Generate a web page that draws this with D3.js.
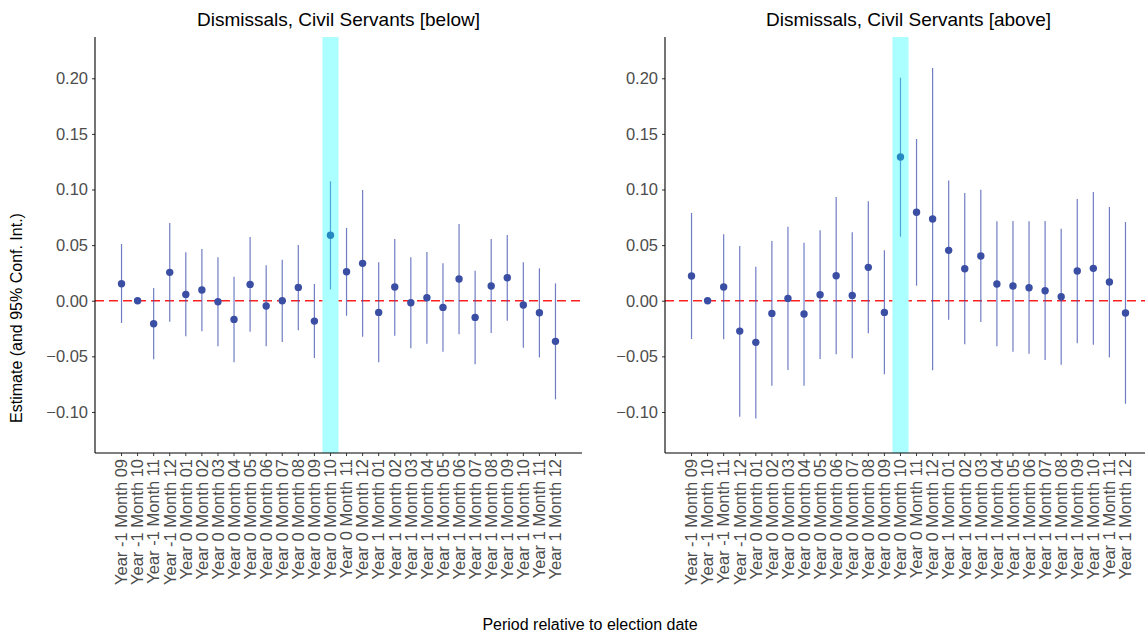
<!DOCTYPE html>
<html>
<head>
<meta charset="utf-8">
<script src="https://cdn.jsdelivr.net/npm/d3@7"></script>
<style>
  body { margin: 0; background: #fff; }
  text { font-family: "Liberation Sans", Arial, sans-serif; }
</style>
</head>
<body>
<div id="chart"></div>
<script>
var width = 1145;
var height = 636;

var periods = ["Year -1 Month 09","Year -1 Month 10","Year -1 Month 11","Year -1 Month 12"
              ,"Year 0 Month 01","Year 0 Month 02","Year 0 Month 03","Year 0 Month 04"
              ,"Year 0 Month 05","Year 0 Month 06","Year 0 Month 07","Year 0 Month 08"
              ,"Year 0 Month 09","Year 0 Month 10","Year 0 Month 11","Year 0 Month 12"
              ,"Year 1 Month 01","Year 1 Month 02","Year 1 Month 03","Year 1 Month 04"
              ,"Year 1 Month 05","Year 1 Month 06","Year 1 Month 07","Year 1 Month 08"
              ,"Year 1 Month 09","Year 1 Month 10","Year 1 Month 11","Year 1 Month 12"];

var electionPeriod = "Year 0 Month 10";

var panelTitles = ["Dismissals, Civil Servants [below]", "Dismissals, Civil Servants [above]"];

// below
var belowEst  = [0.0153, 0, -0.0207, 0.0255, 0.0057, 0.0096, -0.0009, -0.0168, 0.0147, -0.0048, 0.000, 0.012, -0.0183, 0.0588
                ,0.026, 0.0336, -0.0105, 0.0123, -0.0018, 0.0027, -0.006, 0.0195, -0.015, 0.0132, 0.0207, -0.0039, -0.0108, -0.0365];
var belowLow  = [-0.020, 0, -0.0527, -0.0189, -0.032, -0.0275, -0.041, -0.0554, -0.0279, -0.041, -0.0371, -0.0266, -0.0515, 0.0102
                ,-0.0135, -0.0324, -0.0554, -0.0315, -0.0428, -0.0387, -0.0459, -0.0302, -0.057, -0.029, -0.018, -0.0423, -0.051, -0.0887];
var belowHigh = [0.051, 0, 0.0114, 0.0699, 0.0435, 0.0465, 0.039, 0.0216, 0.0573, 0.0318, 0.0369, 0.050, 0.015, 0.1074
                ,0.0654, 0.0995, 0.0345, 0.0555, 0.039, 0.0438, 0.0336, 0.069, 0.027, 0.0555, 0.0591, 0.0345, 0.0291, 0.0156];

// above
var aboveEst  = [0.0222, 0, 0.0123, -0.0273, -0.0374, -0.0114, 0.0021, -0.012, 0.0054, 0.0225, 0.0048, 0.030, -0.0105, 0.1292
                ,0.0795, 0.0735, 0.0453, 0.0288, 0.0402, 0.015, 0.0132, 0.0117, 0.009, 0.0036, 0.0267, 0.0291, 0.0168, -0.0111];
var aboveLow  = [-0.0344, 0, -0.0347, -0.1043, -0.1058, -0.0764, -0.0623, -0.0764, -0.0524, -0.0482, -0.0518, -0.0293, -0.0662, 0.0576
                ,0.0135, -0.0626, -0.0171, -0.0392, -0.0192, -0.041, -0.0459, -0.0477, -0.0533, -0.0576, -0.0383, -0.0396, -0.0509, -0.0926];
var aboveHigh = [0.0789, 0, 0.0597, 0.0492, 0.0306, 0.0537, 0.0666, 0.0522, 0.0633, 0.0933, 0.0615, 0.0894, 0.0453, 0.2005
                ,0.1454, 0.2093, 0.108, 0.0969, 0.0998, 0.0714, 0.0717, 0.0714, 0.0717, 0.0647, 0.0915, 0.0978, 0.0843, 0.0708];

var yTicks = [-0.10, -0.05, 0.00, 0.05, 0.10, 0.15, 0.20];

var panels = [
    {title: panelTitles[0], left: 95,  est: belowEst, low: belowLow, high: belowHigh},
    {title: panelTitles[1], left: 665, est: aboveEst, low: aboveLow, high: aboveHigh}
];

var plotW = 487;
var plotTop = 37;
var plotBottom = 453;

var y = d3.scaleLinear()
    .domain([-0.1369, 0.2371])
    .range([plotBottom, plotTop]);

var svg = d3.select("#chart")
    .append("svg")
    .attr("width", width)
    .attr("height", height);

panels.forEach(drawPanel);

function drawPanel(p) {
    var x = d3.scaleLinear()
        .domain([-1.65, periods.length - 1 + 1.65])
        .range([0, plotW]);

    var g = svg.append("g")
        .attr("transform", "translate(" + p.left + ",0)");

    var rows = periods.map(function(d, i) {
        return {period: d, i: i, est: p.est[i], low: p.low[i], high: p.high[i]};
    });

    var k = periods.indexOf(electionPeriod);
    var bandX = x(k - 0.5), bandW = x(k + 0.5) - x(k - 0.5);

    // zero line
    g.append("line")
        .attr("x1", 0)
        .attr("x2", plotW)
        .attr("y1", y(0))
        .attr("y2", y(0))
        .attr("stroke", "#ff2020")
        .attr("stroke-width", 1.6)
        .attr("stroke-dasharray", "9,5");

    // the band hides the zero line
    g.append("rect")
        .attr("x", bandX).attr("width", bandW)
        .attr("y", plotTop).attr("height", plotBottom - plotTop)
        .attr("fill", "#fff");

    g.selectAll("line.ci")
        .data(rows)
        .enter()
        .append("line")
        .attr("class", "ci")
        .attr("x1", function(d) {return x(d.i)})
        .attr("x2", function(d) {return x(d.i)})
        .attr("y1", function(d) {return y(d.low)})
        .attr("y2", function(d) {return y(d.high)})
        .attr("stroke", "#3f51b0")
        .attr("stroke-opacity", 0.75)
        .attr("stroke-width", 1.2);

    g.selectAll("circle")
        .data(rows)
        .enter()
        .append("circle")
        .attr("cx", function(d) {return x(d.i)})
        .attr("cy", function(d) {return y(d.est)})
        .attr("r", 3.7)
        .attr("fill", "#3a4ea3");

    // election month highlight
    g.append("rect")
        .attr("x", bandX).attr("width", bandW)
        .attr("y", plotTop).attr("height", plotBottom - plotTop)
        .attr("fill", "#00ffff")
        .attr("fill-opacity", 0.33);

    // y axis
    var yAxis = g.append("g")
        .call(d3.axisLeft(y).tickValues(yTicks).tickSize(3).tickPadding(4)
              .tickFormat(function(d) {return d3.format(".2f")(d).replace("-", "\u2212")}));
    yAxis.select(".domain").remove();
    yAxis.selectAll(".tick line").attr("stroke", "#333");
    yAxis.selectAll("text")
        .attr("fill", "#4d4d4d")
        .style("font-size", "16.5px");
    g.append("line")
        .attr("x1", 0).attr("x2", 0)
        .attr("y1", plotTop).attr("y2", plotBottom)
        .attr("stroke", "#000").attr("stroke-width", 1.1);

    // x axis
    var ticks = g.append("g")
        .attr("transform", "translate(0," + plotBottom + ")");
    ticks.append("line")
        .attr("x1", 0).attr("x2", plotW)
        .attr("stroke", "#000").attr("stroke-width", 1.1);
    ticks.selectAll("line.tk")
        .data(rows)
        .enter()
        .append("line")
        .attr("class", "tk")
        .attr("x1", function(d) {return x(d.i)})
        .attr("x2", function(d) {return x(d.i)})
        .attr("y1", 0).attr("y2", 3)
        .attr("stroke", "#333");
    ticks.selectAll("text")
        .data(rows)
        .enter()
        .append("text")
        .attr("transform", function(d) {return "translate(" + x(d.i) + ",6) rotate(-90)"})
        .attr("text-anchor", "end")
        .attr("dy", "0.35em")
        .attr("fill", "#4d4d4d")
        .style("font-size", "16.5px")
        .text(function(d) {return d.period});

    g.append("text")
        .attr("x", plotW / 2)
        .attr("y", 26)
        .attr("text-anchor", "middle")
        .style("font-size", "19px")
        .text(p.title);
}

svg.append("text")
    .attr("transform", "translate(22,318) rotate(-90)")
    .attr("text-anchor", "middle")
    .style("font-size", "16px")
    .text("Estimate (and 95% Conf. Int.)");

svg.append("text")
    .attr("x", 590)
    .attr("y", 630)
    .attr("text-anchor", "middle")
    .style("font-size", "16px")
    .text("Period relative to election date");
</script>
</body>
</html>
